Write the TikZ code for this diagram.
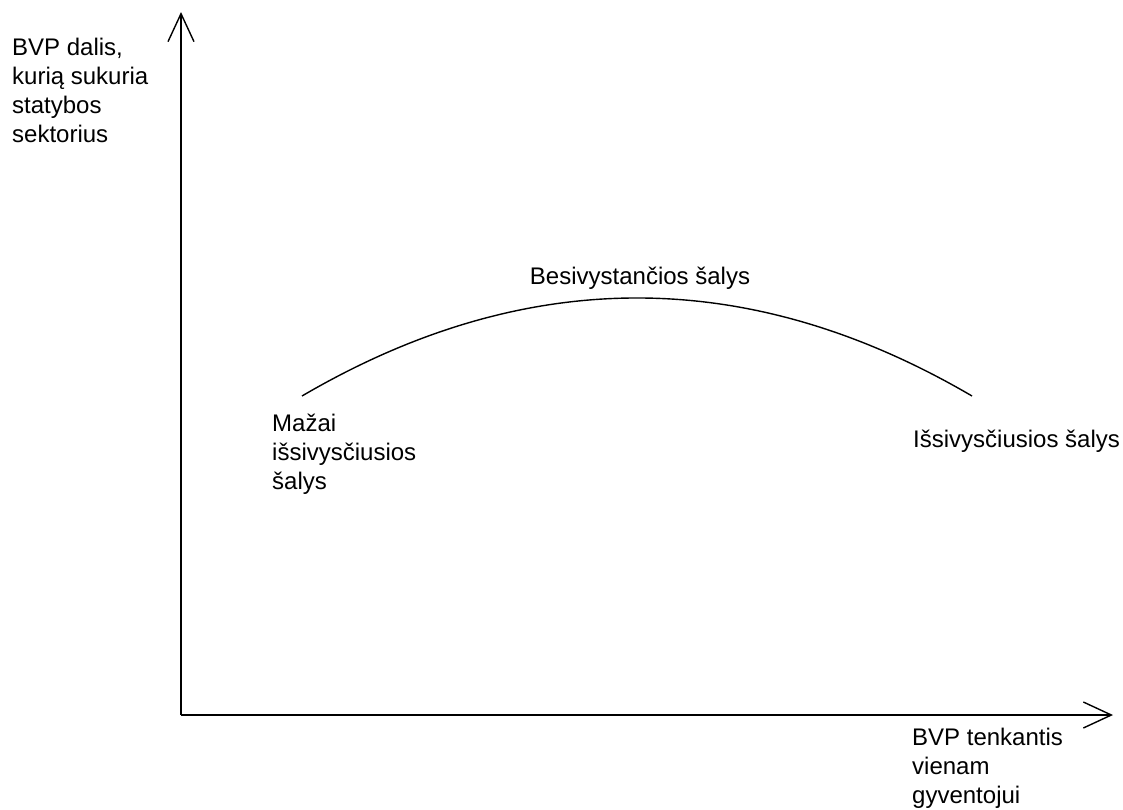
\documentclass[tikz,border=0pt]{standalone}
\usepackage{fontspec}
\setmainfont{Liberation Sans}
\usetikzlibrary{arrows.meta}
\begin{document}
\begin{tikzpicture}[x=1pt,y=-1pt,
  axis/.style={line width=1.4pt, -{Straight Barb[length=28pt,width=26pt,line width=1.4pt]}},
  curveline/.style={line width=1.4pt},
  lbl/.style={font=\fontsize{24}{29}\selectfont, inner sep=0pt, align=left}]
  \useasboundingbox (0,0) rectangle (1123,809);
  % axes
  \coordinate (O) at (181,715);
  \coordinate (ytop) at (181,12);
  \coordinate (xend) at (1113,715);
  \draw[axis] (O) -- (ytop);
  \draw[axis] (O) -- (xend);
  % curve
  \coordinate (cstart) at (302,396);
  \coordinate (cend) at (972,396);
  \draw[curveline] (cstart) .. controls (525.3,265.3) and (748.7,265.3) .. (cend);
  % labels
  \node[lbl, anchor=north west] (ylabel) at (12,38) {BVP dalis,\\kurią sukuria\\statybos\\sektorius};
  \node[lbl, anchor=north west] (xlabel) at (912,728) {BVP tenkantis\\vienam\\gyventojui};
  \node[lbl, anchor=north] (mid) at (640,267) {Besivystančios šalys};
  \node[lbl, anchor=north west] (low) at (272,414) {Mažai\\išsivysčiusios\\šalys};
  \node[lbl, anchor=north west] (high) at (913,430) {Išsivysčiusios šalys};
\end{tikzpicture}
\end{document}
